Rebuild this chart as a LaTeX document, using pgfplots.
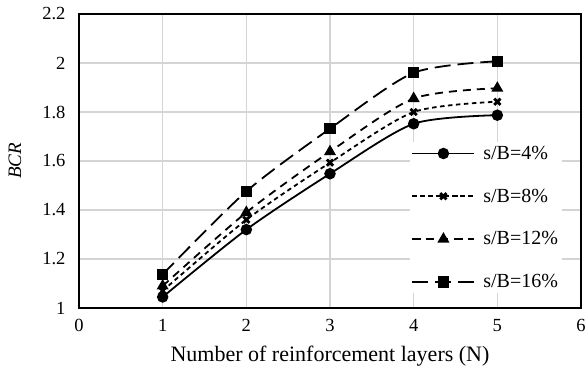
\documentclass[border=0pt]{standalone}
\usepackage{fontspec}
\setmainfont{Liberation Serif}
\usepackage{pgfplots}
\pgfplotsset{compat=1.18}
\begin{document}
\begin{tikzpicture}
\begin{axis}[
  name=main,
  scale only axis,
  width=502pt, height=294pt,
  xmin=0, xmax=6, ymin=1, ymax=2.2,
  xtick={0,1,...,6},
  ytick={1,1.2,...,2.2},
  yticklabels={1,1.2,1.4,1.6,1.8,2,2.2},
  grid=major,
  major grid style={draw=black!17, line width=1.1pt},
  axis line style={line width=1.5pt},
  tick style={draw=none},
  ticklabel style={font=\fontsize{18.5}{20}\selectfont},
  yticklabel style={xshift=-10pt},
  xticklabel style={yshift=-8pt},
  /pgf/number format/assume math mode=true,
  xlabel={Number of reinforcement layers (N)},
  ylabel={\itshape BCR},
  xlabel style={font=\fontsize{22}{24}\selectfont, at={(axis description cs:0.5,0)}, anchor=center, yshift=-48pt},
  ylabel style={font=\fontsize{19}{21}\selectfont, at={(axis description cs:0,0.5)}, anchor=center, yshift=64pt},
  legend style={at={(rel axis cs:0.658,0.565)}, anchor=north west, draw=none, fill=white,
    font=\fontsize{20}{22}\selectfont, row sep=24pt, column sep=6pt, inner sep=2pt},
  legend cell align=left,
  legend image code/.code={\draw[line width=1.8pt, mark repeat=2,mark phase=2] plot coordinates {(0pt,0pt) (31pt,0pt) (62pt,0pt)};},
]
\addplot[black, line width=1.8pt, smooth, tension=0.45, mark=*, mark size=4.8pt, mark options={solid}] coordinates {(1,1.045) (2,1.32) (3,1.548) (4,1.752) (5,1.787)};
\addlegendentry{s/B=4\%}
\addplot[black, line width=1.8pt, smooth, tension=0.45, mark=x, mark size=4.4pt, mark options={solid, line width=2.8pt}, dash pattern=on 4.5pt off 3.5pt] coordinates {(1,1.07) (2,1.36) (3,1.593) (4,1.80) (5,1.842)};
\addlegendentry{s/B=8\%}
\addplot[black, line width=1.8pt, smooth, tension=0.45, mark=triangle*, mark size=5.2pt, mark options={solid}, dash pattern=on 8pt off 6pt] coordinates {(1,1.09) (2,1.39) (3,1.638) (4,1.855) (5,1.897)};
\addlegendentry{s/B=12\%}
\addplot[black, line width=1.8pt, smooth, tension=0.45, mark=square*, mark size=4.8pt, mark options={solid}, dash pattern=on 16pt off 7pt] coordinates {(1,1.137) (2,1.476) (3,1.732) (4,1.96) (5,2.007)};
\addlegendentry{s/B=16\%}
\end{axis}
\pgfresetboundingbox
\useasboundingbox ([shift={(-79pt,-72pt)}]main.south west) rectangle ([shift={(4pt,14pt)}]main.north east);
\end{tikzpicture}
\end{document}
